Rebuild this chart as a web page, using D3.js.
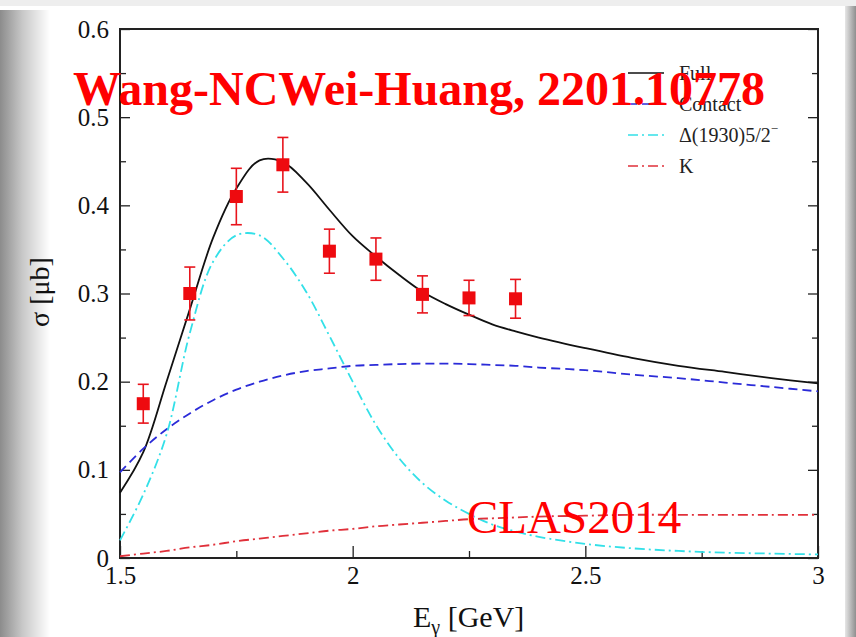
<!DOCTYPE html>
<html lang="en">
<head>
<meta charset="UTF-8">
<title>sigma vs E_gamma</title>
<script src="https://cdn.jsdelivr.net/npm/d3@7"></script>
<style>
  body { margin: 0; background: #fff; }
  svg { display: block; }
  text { font-family: "Liberation Serif", "Times New Roman", serif; }
</style>
</head>
<body>
<script>
// measured data (CLAS 2014)
const dataE = [1.55, 1.65, 1.75, 1.85, 1.95, 2.05, 2.15, 2.25, 2.35];
const dataSigma = [0.175, 0.300, 0.410, 0.446, 0.348, 0.339, 0.299, 0.295, 0.294];
const dataErr = [0.022, 0.030, 0.032, 0.031, 0.025, 0.024, 0.021, 0.020, 0.022];

// model curves
const curveE = [1.5, 1.55, 1.6, 1.65, 1.7, 1.75, 1.8, 1.85, 1.9, 1.95, 2.0, 2.05, 2.1, 2.15, 2.2, 2.25, 2.3, 2.35, 2.4, 2.5, 2.6, 2.7, 2.8, 2.9, 3.0];
const fullSigma = [0.074, 0.120, 0.200, 0.282, 0.363, 0.419, 0.451, 0.449, 0.426, 0.395, 0.365, 0.342, 0.321, 0.302, 0.288, 0.276, 0.265, 0.257, 0.250, 0.238, 0.227, 0.218, 0.211, 0.204, 0.198];
const contactSigma = [0.097, 0.124, 0.146, 0.164, 0.179, 0.191, 0.200, 0.207, 0.212, 0.215, 0.218, 0.219, 0.220, 0.2205, 0.2205, 0.220, 0.219, 0.218, 0.216, 0.213, 0.208, 0.204, 0.199, 0.194, 0.189];
const deltaSigma = [0.020, 0.072, 0.140, 0.255, 0.336, 0.366, 0.366, 0.340, 0.302, 0.252, 0.200, 0.151, 0.113, 0.085, 0.065, 0.050, 0.038, 0.030, 0.024, 0.016, 0.011, 0.008, 0.006, 0.005, 0.004];
const kaonSigma = [0.002, 0.005, 0.008, 0.012, 0.015, 0.019, 0.022, 0.025, 0.028, 0.031, 0.033, 0.036, 0.038, 0.040, 0.042, 0.044, 0.045, 0.046, 0.047, 0.048, 0.049, 0.049, 0.049, 0.049, 0.049];

const legendLabels = ["Full", "Contact", "Δ(1930)5/2", "K"];
const xTicks = [1.5, 2, 2.5, 3];
const yTicks = [0, 0.1, 0.2, 0.3, 0.4, 0.5, 0.6];

const W = 856, H = 637;
const margin = {left: 120, right: 38, top: 29, bottom: 79};
const serif = '"Liberation Serif", "Times New Roman", serif';

const svg = d3.select("body").append("svg").attr("width", W).attr("height", H);
const defs = svg.append("defs");

// slide background with shadows
svg.append("rect").attr("width", W).attr("height", H).attr("fill", "#fff");
const gl = defs.append("linearGradient").attr("id", "shadowL").attr("x1", "0%").attr("x2", "100%");
gl.append("stop").attr("offset", "0%").attr("stop-color", "#8c8c8c");
gl.append("stop").attr("offset", "45%").attr("stop-color", "#c8c8c8");
gl.append("stop").attr("offset", "100%").attr("stop-color", "#fff");
svg.append("rect").attr("x", 0).attr("y", 10).attr("width", 50).attr("height", H - 10).attr("fill", "url(#shadowL)");
const gr = defs.append("linearGradient").attr("id", "shadowR").attr("x1", "0%").attr("x2", "100%");
gr.append("stop").attr("offset", "0%").attr("stop-color", "#e6e6e6");
gr.append("stop").attr("offset", "100%").attr("stop-color", "#8f8f8f");
svg.append("rect").attr("x", 845).attr("y", 4).attr("width", 11).attr("height", H - 4).attr("fill", "url(#shadowR)");
svg.append("rect").attr("x", 0).attr("y", 0).attr("width", W).attr("height", 6).attr("fill", "#eeeeee");

const x = d3.scaleLinear().domain([1.5, 3]).range([margin.left, W - margin.right]);
const y = d3.scaleLinear().domain([0, 0.6]).range([H - margin.bottom, margin.top]);

// axes, ticks inward
const minorY = d3.range(0.05, 0.6, 0.1);
const minorX = [1.75, 2.25, 2.75];

const left = svg.append("g").attr("transform", `translate(${margin.left},0)`)
  .call(d3.axisLeft(y).tickValues(yTicks).tickSize(-10).tickPadding(11).tickFormat(d => d === 0 ? "0" : d3.format(".1f")(d)));
left.attr("font-family", serif).attr("font-size", 25);
left.selectAll("text").attr("fill", "#111");
svg.append("g").attr("transform", `translate(${margin.left},0)`)
  .call(d3.axisLeft(y).tickValues(minorY).tickSize(-6).tickFormat(""));
svg.append("g").attr("transform", `translate(${W - margin.right},0)`)
  .call(d3.axisRight(y).tickValues(yTicks).tickSize(-10).tickFormat(""));
svg.append("g").attr("transform", `translate(${W - margin.right},0)`)
  .call(d3.axisRight(y).tickValues(minorY).tickSize(-6).tickFormat(""));

const bottom = svg.append("g").attr("transform", `translate(0,${H - margin.bottom})`)
  .call(d3.axisBottom(x).tickValues(xTicks).tickSize(-12).tickPadding(8).tickFormat(d3.format("")));
bottom.attr("font-family", serif).attr("font-size", 25);
bottom.selectAll("text").attr("fill", "#111");
svg.append("g").attr("transform", `translate(0,${H - margin.bottom})`)
  .call(d3.axisBottom(x).tickValues(minorX).tickSize(-7).tickFormat(""));

svg.selectAll(".domain").remove();
svg.selectAll(".tick line").attr("stroke", "#222").attr("stroke-width", 1.3);

// frame
svg.append("rect")
  .attr("x", x(1.5)).attr("y", y(0.6))
  .attr("width", x(3) - x(1.5)).attr("height", y(0) - y(0.6))
  .attr("fill", "none").attr("stroke", "#222").attr("stroke-width", 2);

// curves
const series = [
  {vals: fullSigma, color: "#111", dash: null},
  {vals: contactSigma, color: "#2b2bd8", dash: "9,5"},
  {vals: deltaSigma, color: "#33e0e8", dash: "10,4,2,4"},
  {vals: kaonSigma, color: "#e0303a", dash: "10,4,2,4"}
];
const line = d3.line().x(d => x(d[0])).y(d => y(d[1])).curve(d3.curveCatmullRom);
series.forEach(s => {
  svg.append("path")
    .datum(curveE.map((e, i) => [e, s.vals[i]]))
    .attr("d", line)
    .attr("fill", "none")
    .attr("stroke", s.color)
    .attr("stroke-width", 1.8)
    .attr("stroke-dasharray", s.dash);
});

// data points
const pts = svg.append("g").selectAll("g").data(dataE.map((e, i) => ({e, s: dataSigma[i], err: dataErr[i]})))
  .join("g").attr("transform", d => `translate(${x(d.e)},0)`);
pts.append("line").attr("y1", d => y(d.s - d.err)).attr("y2", d => y(d.s + d.err))
  .attr("stroke", "#e8141c").attr("stroke-width", 1.6);
pts.append("line").attr("x1", -5.5).attr("x2", 5.5).attr("y1", d => y(d.s + d.err)).attr("y2", d => y(d.s + d.err))
  .attr("stroke", "#e8141c").attr("stroke-width", 1.6);
pts.append("line").attr("x1", -5.5).attr("x2", 5.5).attr("y1", d => y(d.s - d.err)).attr("y2", d => y(d.s - d.err))
  .attr("stroke", "#e8141c").attr("stroke-width", 1.6);
pts.append("rect").attr("x", -6.5).attr("y", d => y(d.s) - 6.5).attr("width", 13).attr("height", 13)
  .attr("fill", "#ee0a0f");

// legend
const leg = svg.append("g").attr("transform", "translate(628,73)");
series.forEach((s, i) => {
  const row = leg.append("g").attr("transform", `translate(0,${i * 31})`);
  row.append("line").attr("x1", 0).attr("x2", 36)
    .attr("stroke", s.color).attr("stroke-width", 1.6).attr("stroke-dasharray", s.dash);
  const t = row.append("text").attr("x", 51).attr("y", 7).attr("font-size", 20).attr("fill", "#222").text(legendLabels[i]);
  if (i === 2) t.append("tspan").attr("font-size", 13).attr("dy", -9).text("−");
});

// axis titles
const xt = svg.append("text").attr("x", 413).attr("y", 627).attr("font-size", 30).attr("fill", "#111");
xt.append("tspan").text("E");
xt.append("tspan").attr("font-size", 20).attr("dy", 7).text("γ");
xt.append("tspan").attr("dy", -7).text(" [GeV]");

svg.append("text").attr("transform", "translate(49,292) rotate(-90)")
  .attr("text-anchor", "middle").attr("font-size", 28).attr("fill", "#111").text("σ [μb]");

// red overlays
svg.append("text").attr("x", 73).attr("y", 105).attr("font-size", 48).attr("font-weight", "bold")
  .attr("fill", "#ff0000").text("Wang-NCWei-Huang, 2201.10778");
svg.append("text").attr("x", 467).attr("y", 533).attr("font-size", 47)
  .attr("fill", "#ff0000").text("CLAS2014");
</script>
</body>
</html>
